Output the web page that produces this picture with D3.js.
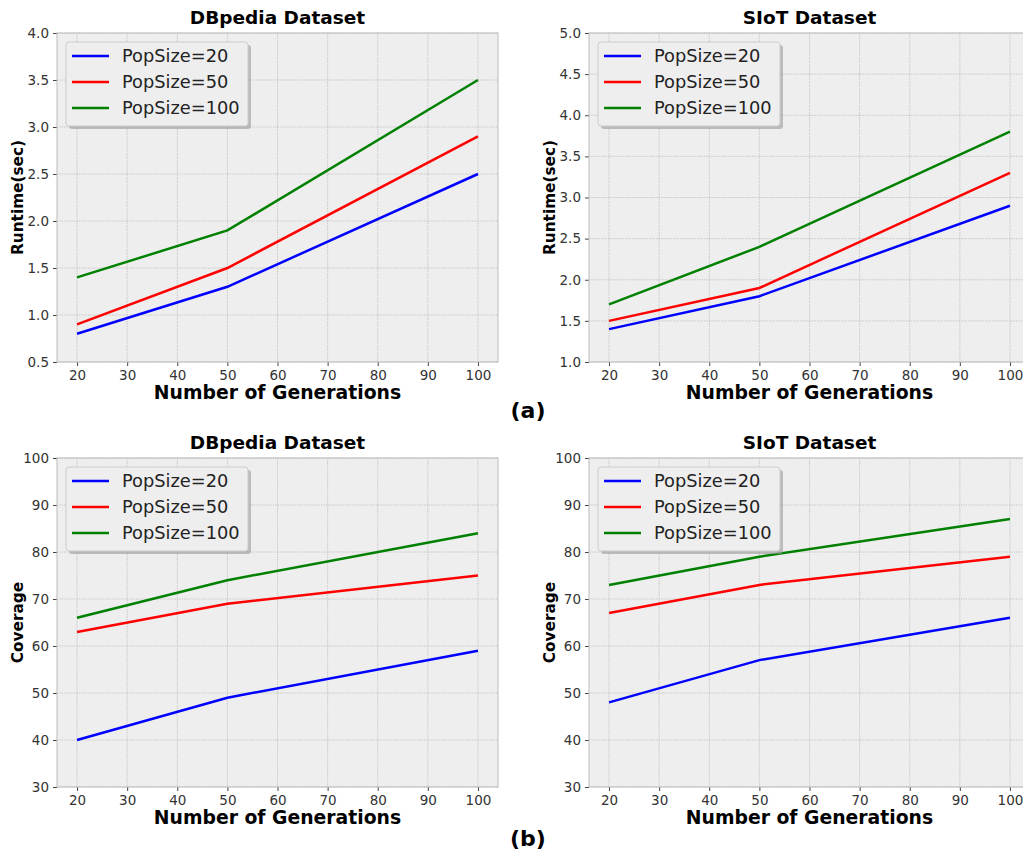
<!DOCTYPE html>
<html>
<head>
<meta charset="utf-8">
<script src="https://cdn.jsdelivr.net/npm/d3@7"></script>
<style>
  body { margin: 0; background: #fff; }
  svg { font-family: "DejaVu Sans", sans-serif; }
</style>
</head>
<body>
<svg id="chart" width="1023" height="852"></svg>
<script>
// generations on the x axis
var generations = [20, 50, 100]
var popSizes = ["PopSize=20", "PopSize=50", "PopSize=100"]
var lineColors = ["#0000ff", "#ff0000", "#008000"]
var xTicks = [20, 30, 40, 50, 60, 70, 80, 90, 100]

// runtime (sec)
var dbpediaRuntime = [
  [0.8, 1.3, 2.5],
  [0.9, 1.5, 2.9],
  [1.4, 1.9, 3.5]
]
var siotRuntime = [
  [1.4, 1.8, 2.9],
  [1.5, 1.9, 3.3],
  [1.7, 2.4, 3.8]
]
// coverage
var dbpediaCoverage = [
  [40, 49, 59],
  [63, 69, 75],
  [66, 74, 84]
]
var siotCoverage = [
  [48, 57, 66],
  [67, 73, 79],
  [73, 79, 87]
]

var runtimeTicksDb = [0.5, 1.0, 1.5, 2.0, 2.5, 3.0, 3.5, 4.0]
var runtimeTicksSiot = [1.0, 1.5, 2.0, 2.5, 3.0, 3.5, 4.0, 4.5, 5.0]
var coverageTicks = [30, 40, 50, 60, 70, 80, 90, 100]

const svg = d3.select("#chart")

var panels = [
  {title: "DBpedia Dataset", ylabel: "Runtime(sec)", data: dbpediaRuntime, ticks: runtimeTicksDb, fmt: d3.format(".1f"), left: 57, top: 33},
  {title: "SIoT Dataset", ylabel: "Runtime(sec)", data: siotRuntime, ticks: runtimeTicksSiot, fmt: d3.format(".1f"), left: 589, top: 33},
  {title: "DBpedia Dataset", ylabel: "Coverage", data: dbpediaCoverage, ticks: coverageTicks, fmt: d3.format("d"), left: 57, top: 458},
  {title: "SIoT Dataset", ylabel: "Coverage", data: siotCoverage, ticks: coverageTicks, fmt: d3.format("d"), left: 589, top: 458}
]

var pw = 441, ph = 329

panels.forEach(p => drawPanel(p))

function drawPanel(p) {
  const g = svg.append("g").attr("transform", `translate(${p.left},${p.top})`)

  var x = d3.scaleLinear().domain([16, 104]).range([0, pw])
  var y = d3.scaleLinear().domain(d3.extent(p.ticks)).range([ph, 0])

  g.append("rect").attr("width", pw).attr("height", ph).attr("fill", "#eeeeee")

  // grid
  g.append("g").selectAll("line").data(xTicks).join("line")
    .attr("x1", d => x(d)).attr("x2", d => x(d)).attr("y1", 0).attr("y2", ph)
    .attr("stroke", "#b8b8b8").attr("stroke-width", 0.8).attr("stroke-dasharray", "1.2,1.2")
  g.append("g").selectAll("line").data(p.ticks).join("line")
    .attr("x1", 0).attr("x2", pw).attr("y1", d => y(d)).attr("y2", d => y(d))
    .attr("stroke", "#b8b8b8").attr("stroke-width", 0.8).attr("stroke-dasharray", "1.2,1.2")

  // axes
  var xAxis = g.append("g").attr("transform", `translate(0,${ph})`)
    .call(d3.axisBottom(x).tickValues(xTicks).tickSize(4).tickPadding(4))
  var yAxis = g.append("g")
    .call(d3.axisLeft(y).tickValues(p.ticks).tickFormat(p.fmt).tickSize(4).tickPadding(4))
  ;[xAxis, yAxis].forEach(a => {
    a.select(".domain").remove()
    a.selectAll("line").attr("stroke", "#444")
    a.selectAll("text").attr("fill", "#333").style("font-size", "13.5px").style("font-family", "DejaVu Sans")
  })

  g.append("rect").attr("width", pw).attr("height", ph)
    .attr("fill", "none").attr("stroke", "#bcbcbc").attr("stroke-width", 1)

  // lines
  var line = d3.line().x((d, i) => x(generations[i])).y(d => y(d))
  g.append("g").selectAll("path").data(p.data).join("path")
    .attr("d", line)
    .attr("fill", "none")
    .attr("stroke", (d, i) => lineColors[i])
    .attr("stroke-width", 2.5)

  // legend
  const lg = g.append("g").attr("transform", "translate(9,9)")
  lg.append("rect").attr("x", 3).attr("y", 3).attr("width", 182).attr("height", 84)
    .attr("rx", 3).attr("fill", "#999").attr("opacity", 0.6)
  lg.append("rect").attr("width", 182).attr("height", 84).attr("rx", 3)
    .attr("fill", "#eeeeee").attr("stroke", "#cccccc").attr("stroke-width", 1)
  popSizes.forEach((name, i) => {
    lg.append("line").attr("x1", 6).attr("x2", 43).attr("y1", 14 + i * 26).attr("y2", 14 + i * 26)
      .attr("stroke", lineColors[i]).attr("stroke-width", 2.5)
    lg.append("text").attr("x", 56).attr("y", 14 + i * 26).attr("dy", "0.36em")
      .style("font-size", "17.8px").attr("fill", "#222").text(name)
  })

  // titles
  g.append("text").attr("x", pw / 2).attr("y", -9).attr("text-anchor", "middle")
    .style("font-size", "18.5px").style("font-weight", "bold").text(p.title)
  g.append("text").attr("x", pw / 2).attr("y", ph + 37).attr("text-anchor", "middle")
    .style("font-size", "18.8px").style("font-weight", "bold").text("Number of Generations")
  g.append("text").attr("transform", `translate(${-34},${ph / 2}) rotate(-90)`)
    .attr("text-anchor", "middle")
    .style("font-size", "15.3px").style("font-weight", "bold").text(p.ylabel)
}

svg.append("text").attr("x", 528).attr("y", 418).attr("text-anchor", "middle")
  .style("font-size", "22px").style("font-weight", "bold").text("(a)")
svg.append("text").attr("x", 528).attr("y", 846).attr("text-anchor", "middle")
  .style("font-size", "22px").style("font-weight", "bold").text("(b)")
</script>
</body>
</html>
